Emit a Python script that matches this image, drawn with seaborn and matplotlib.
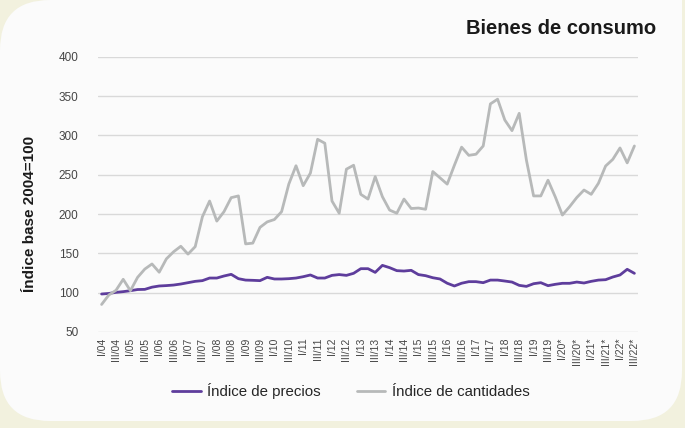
import matplotlib
matplotlib.use("Agg")
import matplotlib.pyplot as plt
import seaborn as sns
import pandas as pd
from matplotlib.patches import FancyBboxPatch, Rectangle
from matplotlib.lines import Line2D

# Quarterly periods I/04 .. III/22
years = ["04", "05", "06", "07", "08", "09", "10", "11", "12", "13",
         "14", "15", "16", "17", "18", "19", "20*", "21*", "22*"]
quarters = ["I", "II", "III", "IV"]
periods = [f"{q}/{y.rstrip('*')}" + ("*" if y.endswith("*") else "")
           for y in years for q in quarters][:75]

precios = [98.3, 99.0, 100.4, 101.3, 102.5, 104.0, 104.2, 107.0, 108.5, 109.0,
           109.7, 111.0, 112.7, 114.4, 115.3, 118.6, 118.6, 121.2, 123.3, 117.8,
           116.0, 115.7, 115.3, 119.5, 117.4, 117.4, 117.8, 118.6, 120.3, 122.5,
           118.6, 118.6, 122.0, 123.0, 122.0, 124.6, 130.5, 130.5, 125.8, 134.7,
           131.8, 128.0, 127.5, 128.4, 123.0, 121.6, 119.0, 117.4, 112.0, 108.5,
           112.0, 114.0, 114.0, 112.7, 116.0, 116.0, 114.8, 113.5, 109.3, 108.0,
           111.4, 112.7, 108.9, 110.6, 111.9, 111.9, 113.5, 112.3, 114.4, 116.0,
           116.5, 119.9, 122.5, 129.7, 124.6]

cantidades = [85.0, 97.0, 103.0, 117.0, 102.5, 119.5, 130.0, 136.5, 126.0, 143.0,
              152.0, 159.0, 149.0, 158.5, 196.5, 216.5, 191.0, 203.0, 220.8, 223.0,
              162.0, 163.0, 183.0, 190.0, 193.0, 203.0, 238.0, 261.4, 236.0, 252.0,
              295.0, 290.0, 216.5, 201.0, 257.0, 262.0, 225.0, 219.0, 247.5, 222.0,
              205.0, 201.0, 219.0, 207.0, 207.6, 206.0, 254.0, 246.0, 238.0, 262.0,
              285.0, 274.6, 276.0, 286.5, 340.0, 346.0, 319.5, 306.0, 328.0, 268.6,
              223.0, 223.0, 243.0, 222.0, 198.7, 209.3, 221.0, 230.5, 225.0, 239.0,
              261.0, 269.5, 284.0, 265.0, 286.5]

series_names = ["Índice de precios", "Índice de cantidades"]
yticks = [50, 100, 150, 200, 250, 300, 350, 400]

n = len(periods)
df = pd.DataFrame({
    "pos": list(range(n)) * 2,
    "valor": precios + cantidades,
    "serie": [series_names[0]] * n + [series_names[1]] * n,
})

sns.set_theme(style="white")
plt.rcParams["font.family"] = ["Liberation Sans", "DejaVu Sans"]

W, H = 685, 428
fig = plt.figure(figsize=(W / 100, H / 100), dpi=100)
fig.patch.set_facecolor("#f2f1de")

# white panel with rounded corners (top-right square)
r = 50
panel_col = "#fbfbfb"
fig.patches.append(FancyBboxPatch((0 + r, 7 + r), 682 - 2 * r, 421 - 2 * r,
                                  boxstyle=f"round,pad={r}", transform=None,
                                  facecolor=panel_col, edgecolor="none", zorder=-2))
fig.patches.append(Rectangle((400, 200), 282, 300, transform=None,
                             facecolor=panel_col, edgecolor="none", zorder=-2))

ax = fig.add_axes([98 / W, (H - 332) / H, (638 - 98) / W, (332 - 56.7) / H])
ax.set_facecolor("none")
ax.set_zorder(1)

palette = {series_names[0]: "#5e3d9c", series_names[1]: "#b7b9b9"}
sns.lineplot(data=df, x="pos", y="valor", hue="serie", palette=palette,
             linewidth=2.0, ax=ax, legend=False, zorder=3)

ax.set_xlim(-0.5, n - 0.5)
ax.set_ylim(50, 400)
ax.set_yticks(yticks)
ax.set_yticklabels([str(v) for v in yticks], fontsize=8.5, color="#454545")
ax.tick_params(axis="y", length=0, pad=14)
tick_pos = list(range(0, n, 2))
ax.set_xticks(tick_pos)
ax.set_xticklabels([periods[i] for i in tick_pos], rotation=90, fontsize=7.5,
                   color="#454545")
ax.tick_params(axis="x", length=0, pad=4)
ax.grid(axis="y", color="#d9d9d9", linewidth=1.0)
ax.grid(axis="x", visible=False)
for s in ax.spines.values():
    s.set_visible(False)
ax.set_xlabel("")
ax.set_ylabel("")

fig.text(30 / W, 1 - 214 / H, "Índice base 2004=100", rotation=90,
         ha="center", va="center", fontsize=11, fontweight="bold", color="#1a1a1a")

fig.text(656 / W, 1 - 28 / H, "Bienes de consumo", ha="right", va="center",
         fontsize=14.5, fontweight="bold", color="#1a1a1a")

handles = [Line2D([], [], color=palette[s], linewidth=2.0) for s in series_names]
fig.legend(handles, series_names, loc="center", bbox_to_anchor=(351 / W, 1 - 391 / H),
           ncol=2, frameon=False, fontsize=10.8, handlelength=1.9, columnspacing=2.4,
           handletextpad=0.45)

fig.savefig("out.png", dpi=100, facecolor=fig.get_facecolor())
